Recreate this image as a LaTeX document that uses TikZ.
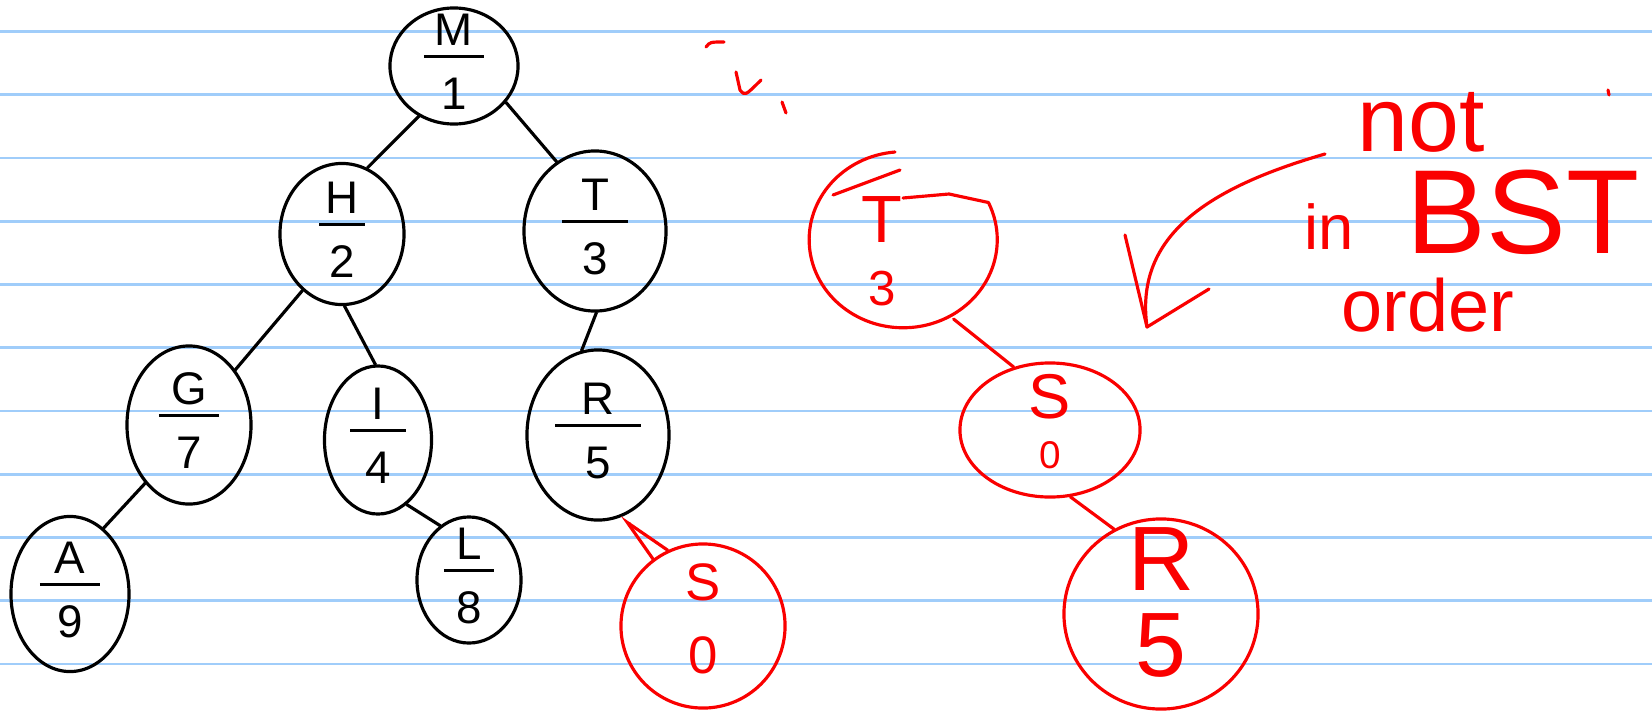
\documentclass[tikz,border=0pt]{standalone}
\usepackage{fontspec}
\setmainfont{Liberation Sans}
\usetikzlibrary{arrows.meta, shapes.geometric, calc}

\definecolor{ruleblue}{RGB}{160,205,250}
\definecolor{inkred}{RGB}{250,0,0}

% text centred on the node anchor, taking no room of its own
\newcommand{\ctr}[1]{\raisebox{-0.25em}[0pt][0pt]{\makebox[0pt]{#1}}}
% key over priority, with the stroke between them
\newcommand{\kp}[3][0.6cm]{\ctr{\begin{tabular}{@{}c@{}}#2\\[-6pt]\rule[5.5pt]{#1}{1pt}\\[-6pt]#3\end{tabular}}}
% key over priority, no stroke
\newcommand{\kv}[3]{\ctr{\begin{tabular}{@{}c@{}}#1\\[#3]#2\end{tabular}}}

\begin{document}
\begin{tikzpicture}[
    x=0.01cm, y=-0.01cm,
    keynode/.style={
        ellipse, draw, line width=0.9pt, inner sep=0pt,
        font=\fontsize{13}{15}\selectfont
    },
    rednode/.style={keynode, draw=inkred, text=inkred},
    link/.style={line width=0.9pt, line cap=round},
    redpen/.style={line width=0.9pt, draw=inkred, line cap=round, line join=round},
    note/.style={text=inkred, anchor=base, inner sep=0pt},
    ruled/.style={draw=ruleblue, line width=0.8pt}
]

\path[use as bounding box, fill=white] (0,0) rectangle (1652,712);

% ruled paper
\foreach \k in {0,...,10}
    \draw[ruled] (0,{31.5+63.25*\k}) -- (1652,{31.5+63.25*\k});

% the treap
\node[keynode, minimum width=1.28cm, minimum height=1.16cm] (m) at (454,66) {\kp{M}{1}};
\node[keynode, minimum width=1.24cm, minimum height=1.41cm] (h) at (342,234) {\kp[0.45cm]{H}{2}};
\node[keynode, minimum width=1.42cm, minimum height=1.60cm] (t) at (595,231) {\kp[0.65cm]{T}{3}};
\node[keynode, minimum width=1.24cm, minimum height=1.58cm] (g) at (189,425) {\kp{G}{7}};
\node[keynode, minimum width=1.07cm, minimum height=1.48cm] (i) at (378,440) {\kp[0.55cm]{I}{4}};
\node[keynode, minimum width=1.42cm, minimum height=1.70cm] (r) at (598,435) {\kp[0.85cm]{R}{5}};
\node[keynode, minimum width=1.18cm, minimum height=1.55cm] (a) at (70,594) {\kp{A}{9}};
\node[keynode, minimum width=1.04cm, minimum height=1.26cm] (l) at (469,580) {\kp[0.5cm]{L}{8}};

\draw[link] (m.-125) -- (h.69);
\draw[link] (m.-35) -- (t.119);
\draw[link] (h.-125) -- (g.50);
\draw[link] (h.-88) -- (i.92);
\draw[link] (g.-127) -- (a.63);
\draw[link] (i.-66) -- (l.118);
\draw[link] (t.-89) -- (r.101);

% new key inserted under R
\node[rednode, minimum width=1.64cm, minimum height=1.64cm,
      font=\fontsize{15}{15}\selectfont] (s) at (703,626) {\kv{S}{0}{5.7pt}};
\draw[redpen, -{Straight Barb[harpoon, length=0.43cm, width=0.32cm]}] (s.115) -- (r.-75);

% the T-S-R chain, drawn again
\node[rednode, draw=none, minimum width=1.88cm, minimum height=1.78cm,
      font=\fontsize{19}{19}\selectfont] (t2) at (882,259) {\kv{T}{{\fontsize{14}{14}\selectfont 3}}{-1.3pt}};
\draw[redpen] ($(t2.center)+(13,-107)$) arc[start angle=95, end angle=385, x radius=0.94cm, y radius=0.88cm]
      -- ($(t2.center)+(67,-65)$) -- ($(t2.center)+(21,-61)$);
\draw[redpen] ($(t2.center)+(-49,-64)$) -- ++(67,-25);

\node[rednode, minimum width=1.80cm, minimum height=1.34cm,
      font=\fontsize{18}{18}\selectfont] (s2) at (1050,430) {\kv{S}{{\fontsize{11}{11}\selectfont 0}}{-3.75pt}};
\node[rednode, minimum width=1.94cm, minimum height=1.90cm,
      font=\fontsize{26}{26}\selectfont] (r2) at (1161,614) {\kv{R}{5}{-1.6pt}};

\draw[redpen] (t2.-40) -- (s2.120);
\draw[redpen] (s2.-73) -- (r2.119);

% curved arrow by the note
\coordinate (chktop) at (1325,154);
\coordinate (chktip) at (1147,327);
\coordinate (chkl) at (1125,235);
\coordinate (chkr) at (1209,289);
\draw[redpen] (chktop) .. controls (1200,190) and (1135,240) .. (chktip);
\draw[redpen] (chkl) -- (chktip) -- (chkr);

\node[note, font=\fontsize{26}{26}\selectfont] (nottxt) at (1421,151) {not};
\node[note, font=\fontsize{18}{18}\selectfont] (intxt) at (1329,249) {in};
\node[note, font=\fontsize{34}{34}\selectfont] (bsttxt) at (1523,253) {BST};
\node[note, font=\fontsize{21}{21}\selectfont] (ordertxt) at (1428,331) {order};

% stray pen marks
\draw[redpen] (706,47) .. controls (710,42) .. (724,42);
\draw[redpen] (736,72) -- (740,90) .. controls (745,96) .. (761,80);
\draw[redpen] (782,102) -- (786,113);
\draw[redpen] (1608,90) -- (1609,95);

\end{tikzpicture}
\end{document}
